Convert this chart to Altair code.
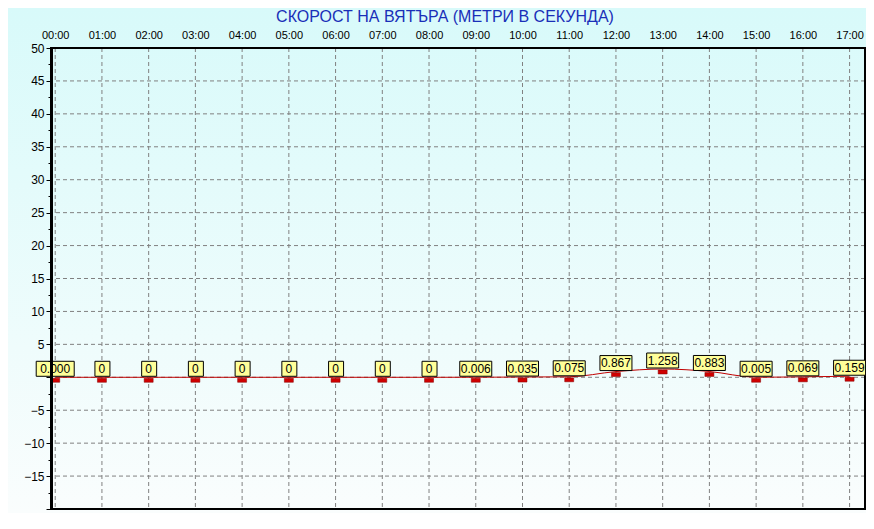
import altair as alt
import pandas as pd

# ---- data ----
hours = list(range(18))
hour_labels = ["00:00", "01:00", "02:00", "03:00", "04:00", "05:00", "06:00", "07:00", "08:00",
               "09:00", "10:00", "11:00", "12:00", "13:00", "14:00", "15:00", "16:00", "17:00"]
values = [0.000, 0, 0, 0, 0, 0, 0, 0, 0, 0.006, 0.035, 0.075, 0.867, 1.258, 0.883, 0.005, 0.069, 0.159]
value_labels = ["0.000", "0", "0", "0", "0", "0", "0", "0", "0",
                "0.006", "0.035", "0.075", "0.867", "1.258", "0.883", "0.005", "0.069", "0.159"]
y_grid_values = [-15, -10, -5, 0, 5, 10, 15, 20, 25, 30, 35, 40, 45]
y_tick_values = [-20, -17.5, -15, -12.5, -10, -7.5, -5, -2.5, 0, 2.5, 5, 7.5, 10, 12.5, 15, 17.5,
                 20, 22.5, 25, 27.5, 30, 32.5, 35, 37.5, 40, 42.5, 45, 47.5, 50]
title_text = "СКОРОСТ НА ВЯТЪРА (МЕТРИ В СЕКУНДА)"

df = pd.DataFrame({"hour": hours, "value": values, "label": value_labels})
df_ygrid = pd.DataFrame({"value": y_grid_values})
df_xgrid = pd.DataFrame({"hour": hours})
df_title = pd.DataFrame({"t": [title_text]})

W, H = 814, 461
PAD = {"left": 43, "top": 40, "right": 1, "bottom": 4}
FONT = "Liberation Sans"

label_array = "[" + ",".join("'%s'" % s for s in hour_labels) + "]"

x_scale = alt.Scale(domain=[-0.09, 17.33], nice=False, zero=False)
y_scale = alt.Scale(domain=[-20, 50], nice=False, zero=False)

x_axis = alt.Axis(orient="top", values=hours, labelExpr=label_array + "[datum.value]",
                  grid=False, ticks=False, domain=False, title=None, labelFontSize=11,
                  labelFont=FONT, labelColor="#000000", labelPadding=8, labelOverlap=False,
                  labelFlush=False, zindex=1)
y_axis = alt.Axis(values=y_tick_values,
                  labelExpr="(datum.value % 5 == 0 && datum.value > -20 && datum.value != 0) ? datum.label : ''",
                  grid=False, domainColor="#000000", domainWidth=3, tickColor="#000000",
                  tickSize={"condition": {"test": "datum.value % 5 == 0", "value": 5}, "value": 3},
                  title=None, labelFontSize=12, labelFont=FONT, labelColor="#000000",
                  labelPadding=2, labelOverlap=False, zindex=1)

X = alt.X("hour:Q", scale=x_scale, axis=x_axis)
Y = alt.Y("value:Q", scale=y_scale, axis=y_axis)

bg = alt.Chart(df).mark_rect(
    fill=alt.Gradient(gradient="linear",
                      stops=[alt.GradientStop(color="#d8fafa", offset=0),
                             alt.GradientStop(color="#fafdfd", offset=1)],
                      x1=0, x2=0, y1=0, y2=1)
).encode(x=alt.value(-PAD["left"]), x2=alt.value(W + PAD["right"]),
         y=alt.value(-PAD["top"]), y2=alt.value(H + PAD["bottom"]))

title = alt.Chart(df_title).mark_text(fontSize=16, font=FONT, color="#1a2fb8", align="center",
                                      baseline="middle").encode(
    x=alt.value(394), y=alt.value(-31), text="t:N")

ygrid = alt.Chart(df_ygrid).mark_rule(color="#808080", strokeDash=[4, 3], strokeWidth=1).encode(y=Y)
xgrid = alt.Chart(df_xgrid).mark_rule(color="#808080", strokeDash=[4, 3], strokeWidth=1).encode(x=X)

frame = alt.Chart(df).mark_rect(fill=None, stroke="#000000", strokeWidth=2).encode(
    x=alt.value(0), x2=alt.value(W), y=alt.value(0), y2=alt.value(H))

line = alt.Chart(df).mark_line(color="#c00000", strokeWidth=1, interpolate="monotone").encode(x=X, y=Y)

markers = alt.Chart(df).mark_rect(fill="#d00000", stroke="#800000", strokeWidth=0.5,
                                  xOffset=-4.5, x2Offset=4.5, yOffset=1, y2Offset=5).encode(
    x=X, x2="hour:Q", y=Y, y2="value:Q")

box_style = dict(fill="#ffff99", stroke="#000000", strokeWidth=1, yOffset=-16, y2Offset=-1)
box_first = alt.Chart(df).transform_filter("datum.hour == 0").mark_rect(
    xOffset=-19, x2Offset=19, **box_style).encode(x=X, x2="hour:Q", y=Y, y2="value:Q")
box_zero = alt.Chart(df).transform_filter("datum.label == '0'").mark_rect(
    xOffset=-7, x2Offset=8, **box_style).encode(x=X, x2="hour:Q", y=Y, y2="value:Q")
box_dec = alt.Chart(df).transform_filter("datum.hour != 0 && datum.label != '0'").mark_rect(
    xOffset=-16, x2Offset=16, **box_style).encode(x=X, x2="hour:Q", y=Y, y2="value:Q")

texts = alt.Chart(df).mark_text(fontSize=12, font=FONT, color="#000000", dy=-8.5,
                                baseline="middle", align="center").encode(x=X, y=Y, text="label:N")

chart = alt.layer(bg, title, ygrid, xgrid, frame, line, markers, box_first, box_zero, box_dec, texts).properties(
    width=W, height=H,
    autosize=alt.AutoSizeParams(type="none"),
    padding=PAD,
).configure_view(stroke=None).configure(background="#ffffff")

chart.save("out.html", embed_options={"renderer": "svg", "actions": False})
